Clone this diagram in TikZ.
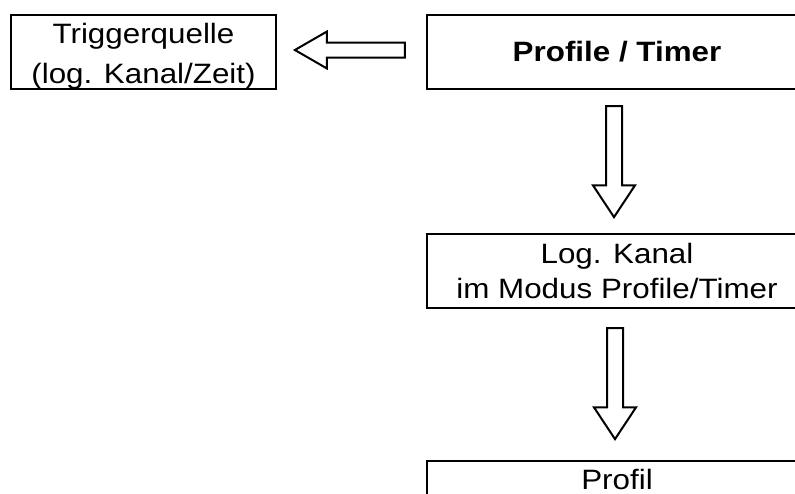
\documentclass[tikz,border=0pt]{standalone}
\usepackage{fontspec}
\setmainfont{Liberation Sans}[FakeStretch=1.12]
\usetikzlibrary{shapes.arrows,positioning}

\begin{document}
\begin{tikzpicture}[x=1pt,y=-1pt,
		box/.style={draw,line width=2.2pt,rectangle,inner sep=0pt,align=center,minimum width=380pt,minimum height=74pt},
		blockarrow/.style={single arrow,draw,line width=2pt,inner sep=7pt,text height=0pt,text depth=0pt,minimum width=40pt,single arrow head extend=13pt,single arrow tip angle=67,minimum height=111pt,anchor=tail}]
		
		\path[use as bounding box,clip] (0,0) rectangle (795,493);
		
		\node[box,minimum width=265pt] (trigger) at (143.5,52) {};
		\node[inner sep=0pt,align=center,anchor=north,font=\fontsize{28}{40}\selectfont] (triggertext) at (143.5,23.5) {Triggerquelle\\(log. Kanal/Zeit)};
		\node[box,font=\fontsize{28}{35}\selectfont\bfseries] (profile) at (617,52) {Profile / Timer};
		\node[box,font=\fontsize{28}{35}\selectfont] (kanal) at (617,271) {Log. Kanal\\im Modus Profile/Timer};
		\node[box,font=\fontsize{28}{35}\selectfont,inner ysep=8pt,text depth=42pt,anchor=north] (profil) at (617,460) {Profil};
		
		\node[blockarrow,shape border rotate=180,inner sep=6.5pt,minimum width=35pt,single arrow head extend=11pt,single arrow tip angle=60,minimum height=110pt] (toleft) at ([xshift=-20pt,yshift=2pt]profile.west) {};
		\node[blockarrow,shape border rotate=270] (down1) at ([xshift=-3pt,yshift=-15pt]profile.south) {};
		\node[blockarrow,shape border rotate=270] (down2) at ([xshift=-2pt,yshift=-18pt]kanal.south) {};
		
	\end{tikzpicture}
\end{document}
